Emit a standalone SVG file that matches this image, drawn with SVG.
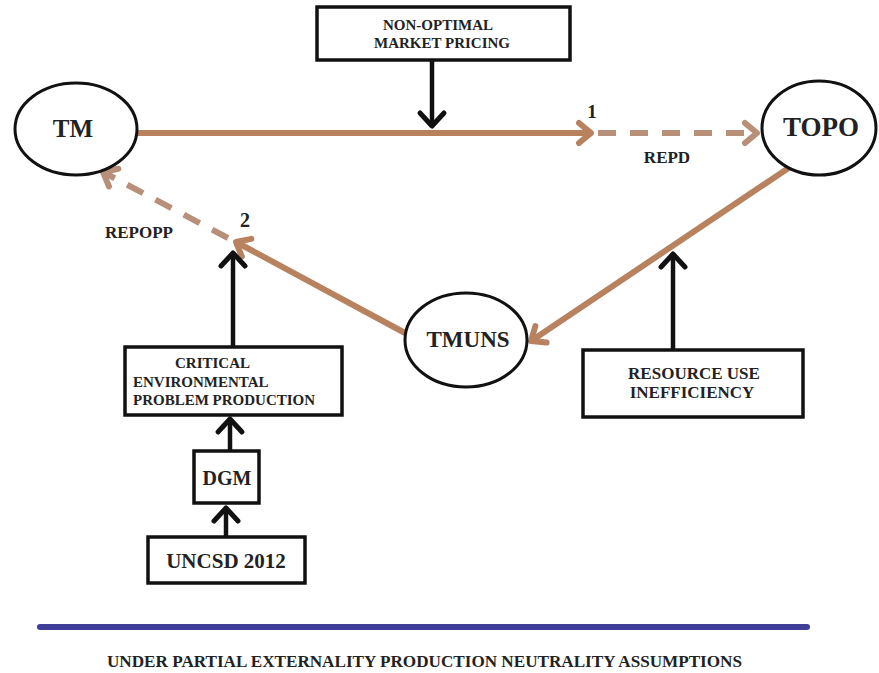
<svg xmlns="http://www.w3.org/2000/svg" width="879" height="673" viewBox="0 0 879 673" font-family="'Liberation Serif', 'DejaVu Serif', serif" font-weight="bold">
  <style>
    text { fill: #222; }
    .node { fill: #fff; stroke: #111; stroke-width: 3; }
    .box { fill: #fff; stroke: #111; stroke-width: 3.5; }
    .flow { fill: none; stroke: #b8825f; stroke-width: 6; }
    .flow-dash { fill: none; stroke: #b8907a; stroke-width: 6; stroke-dasharray: 18 14; }
    .push { fill: none; stroke: #111; stroke-width: 4.5; }
    .mid { text-anchor: middle; }
  </style>
  <defs>
    <marker id="headBrown" viewBox="-16 -14 20 28" markerWidth="20" markerHeight="28" refX="0" refY="0" orient="auto" markerUnits="userSpaceOnUse" overflow="visible">
      <path d="M-12,-10 L0,0 L-12,10" fill="none" stroke="#b8825f" stroke-width="6" stroke-linecap="round" stroke-linejoin="round"/>
    </marker>
    <marker id="headBrownDash" viewBox="-16 -14 20 28" markerWidth="20" markerHeight="28" refX="0" refY="0" orient="auto" markerUnits="userSpaceOnUse" overflow="visible">
      <path d="M-12,-10 L0,0 L-12,10" fill="none" stroke="#b8907a" stroke-width="6" stroke-linecap="round" stroke-linejoin="round"/>
    </marker>
    <marker id="headBlack" viewBox="-18 -16 22 32" markerWidth="22" markerHeight="32" refX="0" refY="0" orient="auto" markerUnits="userSpaceOnUse" overflow="visible">
      <path d="M-13,-12 L0,0 L-13,12" fill="none" stroke="#111" stroke-width="5" stroke-linecap="round" stroke-linejoin="round"/>
    </marker>
  </defs>

  <rect width="879" height="673" fill="#fff"/>

  <!-- connectors -->
  <g id="connectors">
    <line class="flow" x1="138" y1="133" x2="591" y2="133" marker-end="url(#headBrown)"/>
    <line class="flow-dash" x1="598" y1="133" x2="757" y2="133" marker-end="url(#headBrownDash)"/>
    <line class="flow" x1="790" y1="167" x2="531" y2="341" marker-end="url(#headBrown)"/>
    <line class="flow" x1="405" y1="333" x2="236" y2="242" marker-end="url(#headBrown)"/>
    <line class="flow-dash" x1="228" y1="238" x2="103" y2="172" marker-end="url(#headBrownDash)"/>
    <line class="push" x1="432" y1="60" x2="432" y2="126" marker-end="url(#headBlack)"/>
    <line class="push" x1="673" y1="350" x2="673" y2="254" marker-end="url(#headBlack)"/>
    <line class="push" x1="233" y1="347" x2="233" y2="253" marker-end="url(#headBlack)"/>
    <line class="push" x1="230" y1="451" x2="230" y2="419" marker-end="url(#headBlack)"/>
    <line class="push" x1="226" y1="537" x2="226" y2="508" marker-end="url(#headBlack)"/>
  </g>

  <!-- connector labels -->
  <g id="labels">
    <text class="mid" x="592" y="118" font-size="19">1</text>
    <text class="mid" x="667" y="163" font-size="17">REPD</text>
    <text class="mid" x="245" y="227" font-size="20">2</text>
    <text class="mid" x="139" y="238" font-size="17">REPOPP</text>
  </g>

  <g id="tm">
    <ellipse class="node" cx="76" cy="129" rx="61" ry="46"/>
    <text class="mid" x="73" y="137" font-size="25">TM</text>
  </g>

  <g id="topo">
    <ellipse class="node" cx="819" cy="128" rx="57" ry="47"/>
    <text class="mid" x="821" y="136" font-size="27">TOPO</text>
  </g>

  <g id="tmuns">
    <ellipse class="node" cx="466" cy="340" rx="61" ry="47"/>
    <text class="mid" x="468" y="347" font-size="23">TMUNS</text>
  </g>

  <g id="non-optimal-pricing">
    <rect class="box" x="317" y="7" width="253" height="53"/>
    <text class="mid" x="438" y="30" font-size="15">NON-OPTIMAL</text>
    <text class="mid" x="442" y="48" font-size="15">MARKET PRICING</text>
  </g>

  <g id="resource-use">
    <rect class="box" x="583" y="350" width="220" height="67"/>
    <text class="mid" x="694" y="379" font-size="17">RESOURCE USE</text>
    <text class="mid" x="692" y="398" font-size="17">INEFFICIENCY</text>
  </g>

  <g id="critical-problem">
    <rect class="box" x="125" y="347" width="217" height="68"/>
    <text x="175" y="368" font-size="15">CRITICAL</text>
    <text x="133" y="387" font-size="15">ENVIRONMENTAL</text>
    <text x="133" y="405" font-size="15">PROBLEM PRODUCTION</text>
  </g>

  <g id="dgm">
    <rect class="box" x="194" y="451" width="65" height="52"/>
    <text class="mid" x="227" y="485" font-size="20">DGM</text>
  </g>

  <g id="uncsd">
    <rect class="box" x="148" y="537" width="157" height="46"/>
    <text class="mid" x="226" y="568" font-size="21">UNCSD 2012</text>
  </g>

  <!-- caption rule and text -->
  <g id="caption">
    <line x1="40" y1="627" x2="807" y2="627" stroke="#3f3f99" stroke-width="6" stroke-linecap="round"/>
    <text x="107" y="667" font-size="16" textLength="635" lengthAdjust="spacingAndGlyphs">UNDER PARTIAL EXTERNALITY PRODUCTION NEUTRALITY ASSUMPTIONS</text>
  </g>
</svg>
